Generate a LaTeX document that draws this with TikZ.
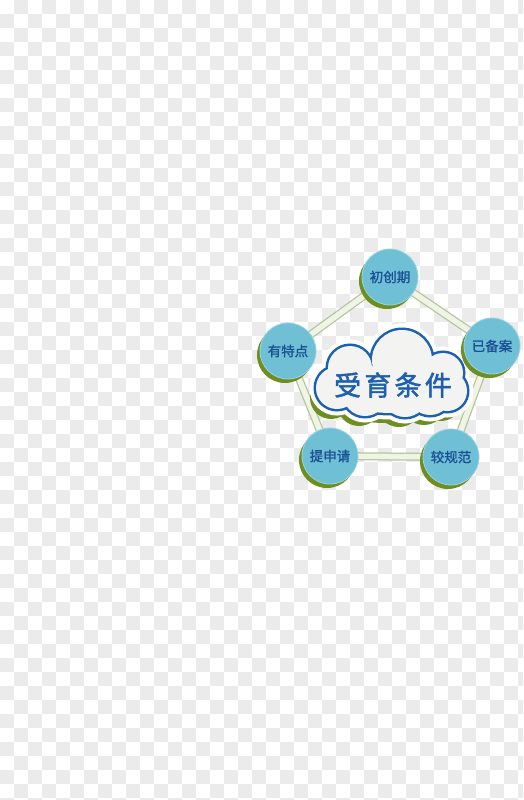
\documentclass[tikz,border=0pt]{standalone}
\usepackage{fontspec}
\usetikzlibrary{calc}
\newfontfamily\cjk[FakeBold=1.2]{Noto Sans CJK SC}
\newfontfamily\cjkwide[LetterSpace=12,FakeBold=2]{Noto Sans CJK SC}
\definecolor{checker}{HTML}{EBEBEB}
\definecolor{bubble}{HTML}{6FC0D5}
\definecolor{bubbletext}{HTML}{1B4F93}
\definecolor{olive}{HTML}{6E8E1F}
\definecolor{linefill}{HTML}{EFF4E6}
\definecolor{lineedge}{HTML}{B2C698}
\definecolor{cloudblue}{HTML}{1D5FB0}
\definecolor{cloudfill}{HTML}{F3F3F1}
\tikzset{
  bubblenode/.style={circle, fill=bubble, draw=bubble!70!white, line width=0.8pt,
    minimum size=56pt, inner sep=0pt, text=bubbletext,
    font=\cjk\fontsize{13.5}{14}\selectfont},
  bubbleshadow/.style={fill=olive},
  linkshadow/.style={draw=olive, line width=6pt},
  linkedge/.style={draw=lineedge, line width=8pt},
  linkcore/.style={draw=linefill, line width=5.5pt},
}
\newcommand{\cloudshape}{
  (402,360) circle[radius=30pt]
  (350,368) circle[radius=22pt]
  (443,373) circle[radius=20pt]
  (337,388) circle[radius=21pt]
  (447,391) circle[radius=20pt]
  (365,394) circle[radius=22pt]
  (405,394) circle[radius=23pt]
  (430,393) circle[radius=22pt]
  (392,389) ellipse[x radius=62pt, y radius=24pt]
}
\begin{document}
\begin{tikzpicture}[x=1pt,y=-1pt]
\useasboundingbox (0,0) rectangle (523,800);
% checkerboard background
\fill[white] (0,0) rectangle (523,800);
\begin{scope}
\clip (0,0) rectangle (523,800);
\foreach \i in {0,...,37}{
  \foreach \j in {0,...,57}{
    \pgfmathtruncatemacro{\cpar}{mod(\i+\j,2)}
    \ifnum\cpar=1 \fill[checker] (\i*14,\j*14) rectangle ++(14,14); \fi
  }
}
\end{scope}
% positions
\coordinate (p1) at (390,277);
\coordinate (p2) at (492,346);
\coordinate (p3) at (451,457);
\coordinate (p4) at (330,456);
\coordinate (p5) at (288,351);
% links
\begin{scope}[shift={(-2,3)}]
\draw[linkshadow] (p1) -- (p2) -- (p3) (p4) -- (p5) -- (p1);
\end{scope}
\draw[linkedge, line join=round] (p1) -- (p2) -- (p3) -- (p4) -- (p5) -- cycle;
\draw[linkcore, line join=round] (p1) -- (p2) -- (p3) -- (p4) -- (p5) -- cycle;
% cloud
\fill[olive, shift={(-6,10)}] \cloudshape;
\draw[white, line width=13pt] \cloudshape;
\draw[cloudblue, line width=5pt] \cloudshape;
\fill[cloudfill] \cloudshape;
\node[text=cloudblue, font=\cjkwide\fontsize{27}{27}\selectfont] (cloud) at (393,385) {受育条件};
% bubbles
\foreach \p in {p1,p2,p3,p4,p5}{
  \fill[bubbleshadow] ($(\p)+(-3,4)$) circle[radius=28pt];
}
\node[bubblenode] (b1) at (p1) {初创期};
\node[bubblenode] (b2) at (p2) {已备案};
\node[bubblenode] (b3) at (p3) {较规范};
\node[bubblenode] (b4) at (p4) {提申请};
\node[bubblenode] (b5) at (p5) {有特点};
\end{tikzpicture}
\end{document}
